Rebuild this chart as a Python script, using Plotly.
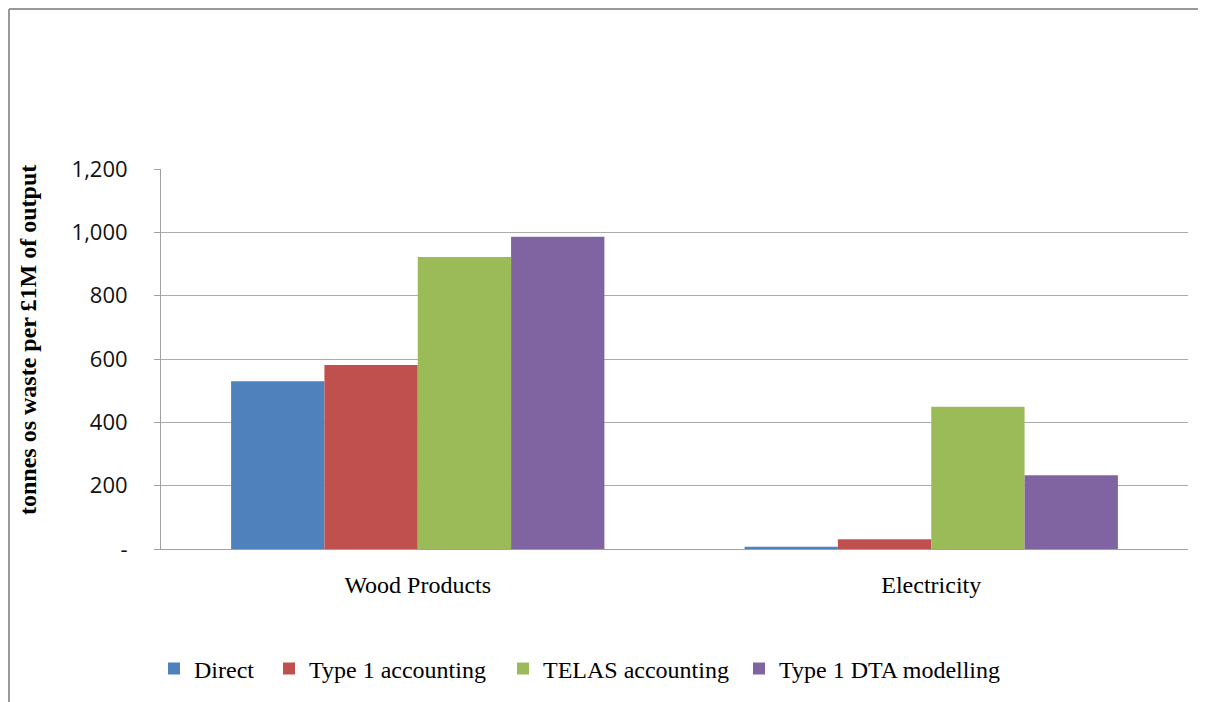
import plotly.graph_objects as go

categories = ["Wood Products", "Electricity"]
series_names = ["Direct", "Type 1 accounting", "TELAS accounting", "Type 1 DTA modelling"]
direct = [530, 7]
type1_accounting = [581, 31]
telas_accounting = [922, 449]
type1_dta = [986, 233]
colors = ["#4F81BD", "#C0504D", "#9BBB59", "#8064A2"]
y_tickvals = [0, 200, 400, 600, 800, 1000, 1200]
y_ticktext = ["-", "200", "400", "600", "800", "1,000", "1,200"]
y_title = "tonnes os waste per £1M of output"

# page has an 8px body margin; plot area targeted at page x 161..1188, y 169..549
W, H = 1206, 702
L, T = 153, 161
R = W - (1188 - 8)
B = H - (549 - 8)
pw = 1188 - 161
ph = 549 - 169

def px_x(page_x):
    return (page_x - 161) / pw

def px_y(page_y):
    return (549 - page_y) / ph

legend_ids = ["legend", "legend2", "legend3", "legend4"]
legend_text_starts = [194, 309, 543, 779]

fig = go.Figure()
for name, vals, col, lid in zip(series_names, [direct, type1_accounting, telas_accounting, type1_dta], colors, legend_ids):
    fig.add_trace(go.Bar(x=categories, y=vals, name=name, legend=lid,
                         marker=dict(color=col, line=dict(width=0))))

legend_font = dict(family="Liberation Serif", size=24, color="black")
legend_layout = {}
for lid, ts in zip(legend_ids, legend_text_starts):
    legend_layout[lid] = dict(orientation="h", x=px_x(ts - 40), xanchor="left",
                              y=px_y(669), yanchor="middle", font=legend_font,
                              bgcolor="rgba(0,0,0,0)", borderwidth=0)

fig.update_layout(
    width=W, height=H,
    margin=dict(l=L, r=R, t=T, b=B),
    paper_bgcolor="white", plot_bgcolor="white",
    barmode="group", bargap=0.273, bargroupgap=0,
    font=dict(family="Liberation Serif", color="black"),
    showlegend=True,
    xaxis=dict(showline=True, linecolor="#A0A0A0", linewidth=1, ticks="",
               tickfont=dict(family="Liberation Serif", size=24, color="black"),
               ticklabelstandoff=14, showgrid=False),
    yaxis=dict(range=[0, 1200], tickvals=y_tickvals, ticktext=y_ticktext,
               showline=True, linecolor="#A0A0A0", linewidth=1,
               ticks="outside", ticklen=6, tickcolor="#A0A0A0",
               ticklabelstandoff=22,
               showgrid=True, gridcolor="#ABABAB", gridwidth=1,
               tickfont=dict(family="Open Sans", size=22, color="#111111"),
               zeroline=False),
    **legend_layout,
)

fig.add_annotation(xref="paper", yref="paper", x=px_x(28), y=px_y(340),
                   text="<b>" + y_title + "</b>", textangle=-90, showarrow=False,
                   font=dict(family="Liberation Serif", size=24, color="black"),
                   xanchor="center", yanchor="middle")

# outer chart border (extends beyond visible image on right/bottom)
x0 = px_x(9)
y1 = px_y(9)
fig.add_shape(type="line", xref="paper", yref="paper", x0=x0, x1=px_x(1230), y0=y1, y1=y1,
              line=dict(color="#999999", width=2))
fig.add_shape(type="line", xref="paper", yref="paper", x0=x0, x1=x0, y0=y1, y1=px_y(720),
              line=dict(color="#999999", width=2))

fig.write_html("out.html")
